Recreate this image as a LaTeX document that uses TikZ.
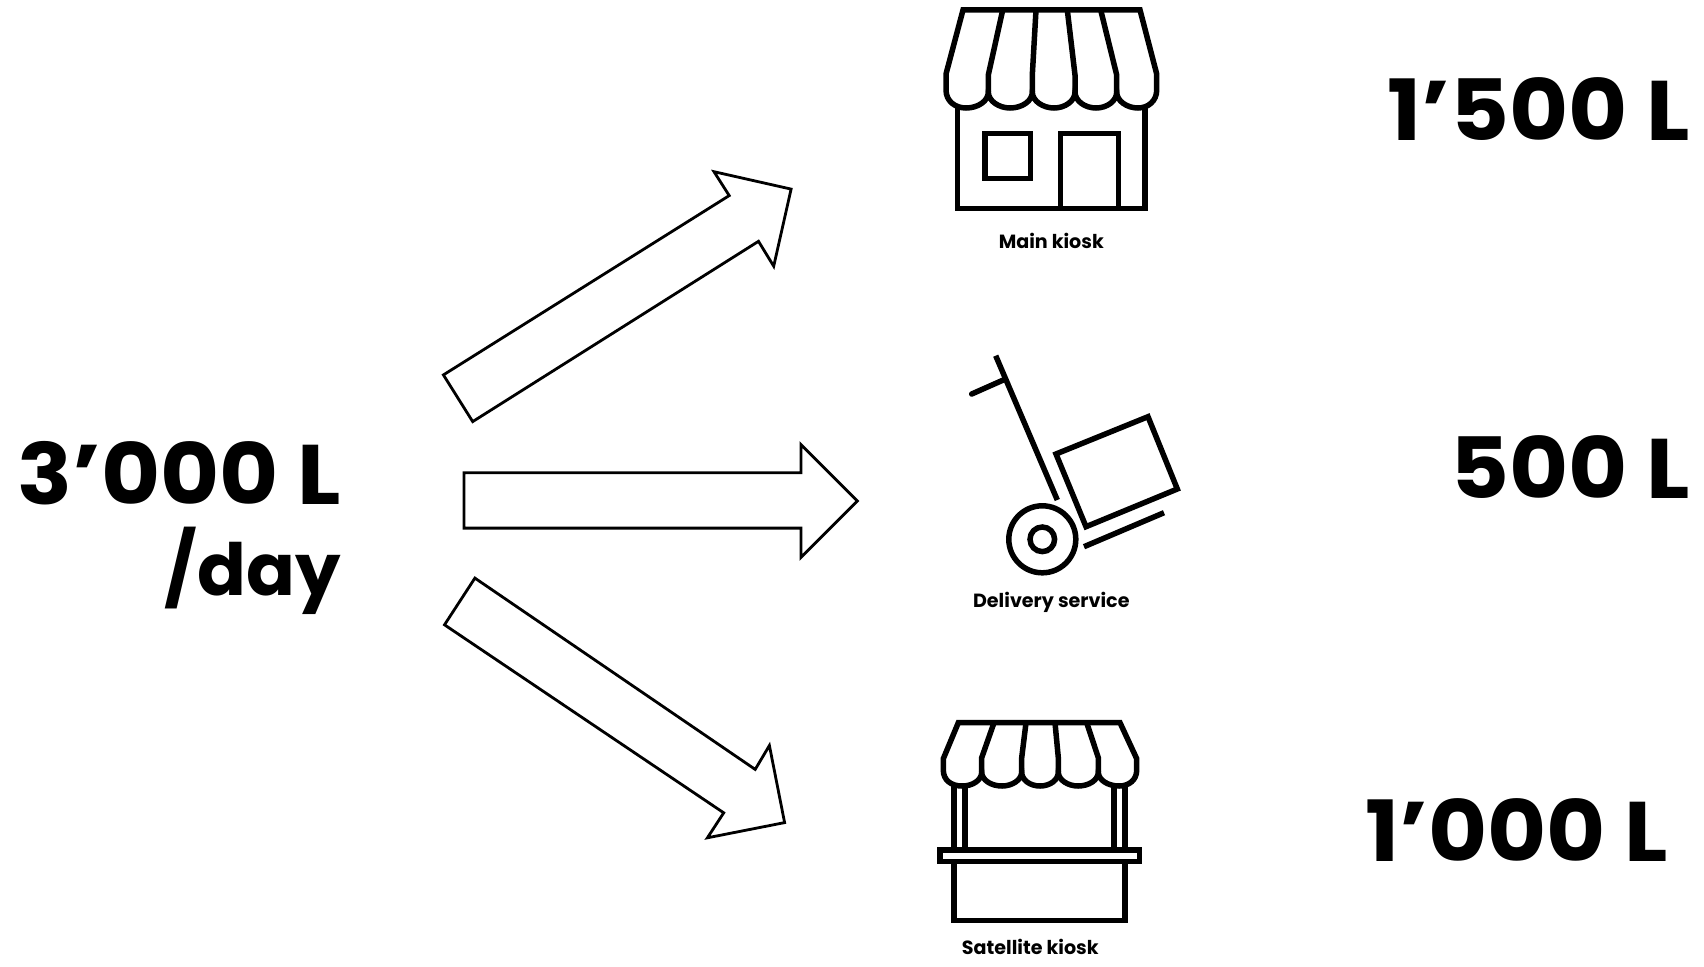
\documentclass[tikz,border=0pt]{standalone}
\usepackage{fontspec}
\setmainfont{Poppins}[BoldFont={Poppins Bold}]
\newfontfamily\bigwide{Poppins Bold}[FakeStretch=1.075]
\tikzset{
  flowarrow/.style={draw=black,line width=2.8pt,fill=white,line join=miter},
  icon/.style={draw=black,line width=5.5pt,line join=miter,line cap=butt},
  bigtext/.style={anchor=base east,inner sep=0pt,font=\fontsize{84.5}{85}\bigwide},
  daytext/.style={anchor=base east,inner sep=0pt,font=\fontsize{72}{72}\selectfont\bfseries},
  caption/.style={anchor=base,inner sep=0pt,font=\fontsize{19.1}{20}\selectfont\bfseries}
}
\begin{document}
\begin{tikzpicture}[x=1pt,y=-1pt]
\useasboundingbox (0,0) rectangle (1704,966);
% flow arrows
\draw[flowarrow] (443.4,374.9) -- (729.2,195.6) -- (714,171.7) -- (791.1,189.1) -- (773.7,266.2) -- (758.5,241.3) -- (472.7,421.6) -- cycle;
\draw[flowarrow] (464,472.7) -- (800.9,472.7) -- (800.9,444.5) -- (857.4,501) -- (800.9,557.5) -- (800.9,528.1) -- (464,528.1) -- cycle;
\draw[flowarrow] (474.9,578.1) -- (755.2,769.4) -- (769.4,745.5) -- (784.6,822.6) -- (707.4,837.8) -- (723.7,812.8) -- (444.5,624.8) -- cycle;
% main kiosk
\draw[icon] (957.7,108) -- (957.7,208.3) -- (1145,208.3) -- (1145,108);
\draw[icon] (985,133.3) rectangle (1030.7,178.3);
\draw[icon] (1060.7,208.3) -- (1060.7,133.3) -- (1118.3,133.3) -- (1118.3,208.3);
\draw[icon] (963,10) -- (1140,10) -- (1156.7,74) -- (1156.7,90)
  .. controls (1156.7,101) and (1148,108) .. (1138,108) .. controls (1127,108) and (1116.7,101) .. (1116.7,92)
  .. controls (1116.7,101) and (1107,108) .. (1096,108) .. controls (1085,108) and (1075,101) .. (1075,92)
  .. controls (1075,101) and (1065,108) .. (1054,108) .. controls (1043,108) and (1032.3,101) .. (1032.3,92)
  .. controls (1032.3,101) and (1022,108) .. (1010,108) .. controls (999,108) and (988.3,101) .. (988.3,92)
  .. controls (988.3,101) and (978,108) .. (966,108) .. controls (955,108) and (946,101) .. (946,90)
  -- (946,74) -- cycle;
\draw[icon] (1002.7,10) -- (988.3,75) -- (988.3,92);
\draw[icon] (1036,10) -- (1032.3,75) -- (1032.3,92);
\draw[icon] (1067.3,10) -- (1075,75) -- (1075,92);
\draw[icon] (1100.7,10) -- (1116.7,75) -- (1116.7,92);
\node[caption] (maincap) at (1051.3,248) {Main kiosk};
% delivery cart
\draw[icon] (995.7,355.7) -- (1057.3,500);
\draw[icon,line cap=round] (971.7,394) -- (1003.3,380);
\draw[icon] (1056,454) -- (1148,416.7) -- (1177.3,489) -- (1086,526.7) -- cycle;
\draw[icon] (1084,546.7) -- (1164,512.7);
\draw[icon] (1042.3,539.3) circle (33.5);
\draw[icon] (1042.3,539.3) circle (12.3);
\node[caption] (delcap) at (1051.3,607) {Delivery service};
% satellite kiosk
\draw[icon] (954,786) -- (954,850);
\draw[icon] (965,786) -- (965,850);
\draw[icon] (1114,786) -- (1114,850);
\draw[icon] (1125,786) -- (1125,850);
\draw[icon] (940,850) rectangle (1139.3,861.7);
\draw[icon] (954,861.7) -- (954,920.3) -- (1125,920.3) -- (1125,861.7);
\draw[icon] (958.3,722.7) -- (1120,722.7) -- (1136.7,758.7) -- (1136.7,770)
  .. controls (1136.7,780) and (1129,786) .. (1119,786) .. controls (1108,786) and (1098.3,780) .. (1098.3,772)
  .. controls (1098.3,780) and (1089,786) .. (1078,786) .. controls (1068,786) and (1058.3,780) .. (1058.3,772)
  .. controls (1058.3,780) and (1050,786) .. (1040,786) .. controls (1030,786) and (1021.7,780) .. (1021.7,772)
  .. controls (1021.7,780) and (1012,786) .. (1002,786) .. controls (991,786) and (981.7,780) .. (981.7,772)
  .. controls (981.7,780) and (973,786) .. (962,786) .. controls (951,786) and (943.3,780) .. (943.3,770)
  -- (943.3,758.7) -- cycle;
\draw[icon] (994,722.7) -- (981.7,757.7) -- (981.7,772);
\draw[icon] (1026,722.7) -- (1021.7,757.7) -- (1021.7,772);
\draw[icon] (1055,722.7) -- (1058.3,757.7) -- (1058.3,772);
\draw[icon] (1086.7,722.7) -- (1098.3,757.7) -- (1098.3,772);
\node[caption] (satcap) at (1030.3,954) {Satellite kiosk};
% figures
\node[bigtext] (total) at (341.5,504.3) {3’000 L};
\node[daytext] (perday) at (341,595.7) {/day};
\node[bigtext] (mainv) at (1690.5,140.5) {1’500 L};
\node[bigtext] (delv) at (1690.5,498) {500 L};
\node[bigtext] (satv) at (1668.5,861.7) {1’000 L};
\end{tikzpicture}
\end{document}
